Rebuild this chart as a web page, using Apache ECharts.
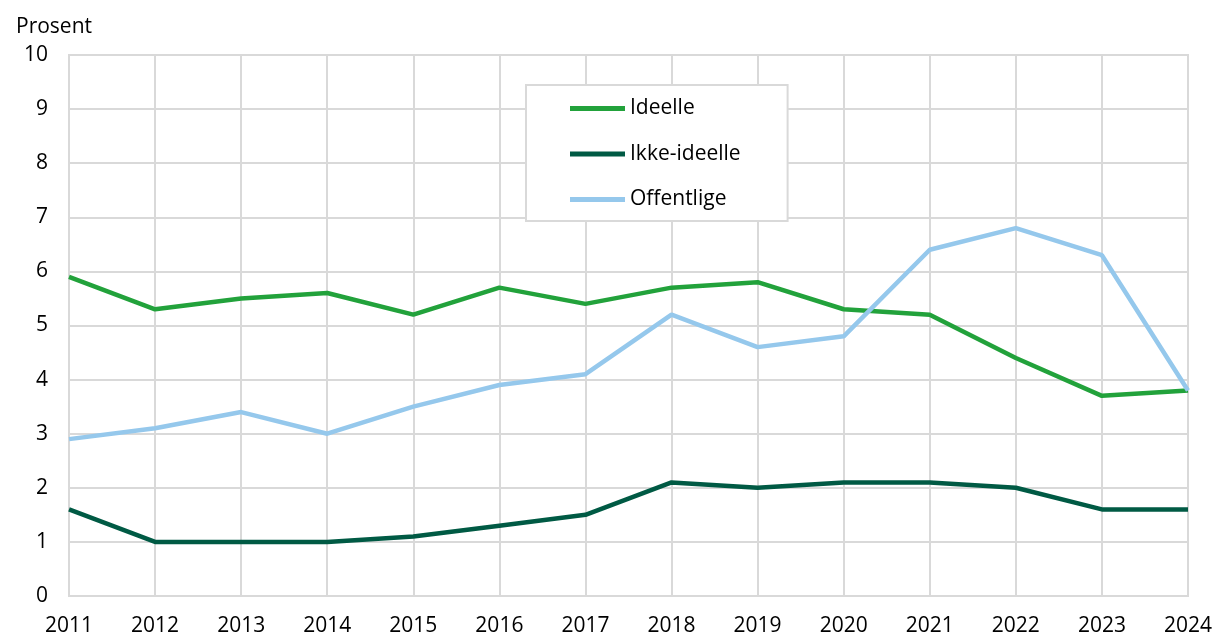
<!DOCTYPE html>
<html>
<head>
<meta charset="utf-8">
<script src="https://cdn.jsdelivr.net/npm/echarts@6/dist/echarts.min.js"></script>
<style>
  html, body { margin: 0; padding: 0; background: #fff; }
  #chart { width: 1215px; height: 637px; }
</style>
</head>
<body>
<div id="chart"></div>
<script>
// data
var years = ['2011', '2012', '2013', '2014', '2015', '2016', '2017', '2018', '2019', '2020', '2021', '2022', '2023', '2024'];
var ideelle = [5.9, 5.3, 5.5, 5.6, 5.2, 5.7, 5.4, 5.7, 5.8, 5.3, 5.2, 4.4, 3.7, 3.8];
var ikkeIdeelle = [1.6, 1.0, 1.0, 1.0, 1.1, 1.3, 1.5, 2.1, 2.0, 2.1, 2.1, 2.0, 1.6, 1.6];
var offentlige = [2.9, 3.1, 3.4, 3.0, 3.5, 3.9, 4.1, 5.2, 4.6, 4.8, 6.4, 6.8, 6.3, 3.8];

var font = "'Open Sans', 'Noto Sans', sans-serif";
var gridColor = '#d9d9d9';

var myChart = echarts.init(document.getElementById('chart'));

function lineSeries(name, data, color) {
  return {
    name: name,
    type: 'line',
    data: data,
    symbol: 'none',
    lineStyle: { color: color, width: 4.5 },
    itemStyle: { color: color }
  };
}

myChart.setOption({
  animation: false,
  textStyle: { fontFamily: font },
  title: {
    text: 'Prosent',
    left: 11,
    top: 12,
    textStyle: { fontFamily: font, fontSize: 21, fontWeight: 'normal', color: '#000' }
  },
  grid: {
    left: 69,
    right: 26,
    top: 55,
    bottom: 39,
    show: true,
    borderColor: gridColor,
    borderWidth: 2
  },
  legend: {
    left: 526,
    top: 85,
    orient: 'vertical',
    data: ['Ideelle', 'Ikke-ideelle', 'Offentlige'],
    icon: 'rect',
    itemWidth: 55,
    itemHeight: 5,
    itemGap: 24.5,
    padding: [13, 47, 11, 44],
    borderColor: gridColor,
    borderWidth: 2,
    backgroundColor: '#fff',
    textStyle: { fontFamily: font, fontSize: 21, color: '#000' }
  },
  xAxis: {
    type: 'category',
    data: years,
    boundaryGap: false,
    axisLine: { lineStyle: { color: gridColor, width: 2 } },
    axisTick: { show: false },
    axisLabel: { fontFamily: font, fontSize: 21, color: '#000', margin: 20 },
    splitLine: { show: true, lineStyle: { color: gridColor, width: 2 } }
  },
  yAxis: {
    type: 'value',
    min: 0,
    max: 10,
    interval: 1,
    axisLine: { show: true, lineStyle: { color: gridColor, width: 2 } },
    axisTick: { show: false },
    axisLabel: { fontFamily: font, fontSize: 21, color: '#000', margin: 21 },
    splitLine: { show: true, lineStyle: { color: gridColor, width: 2 } }
  },
  series: [
    lineSeries('Ideelle', ideelle, '#22a23b'),
    lineSeries('Ikke-ideelle', ikkeIdeelle, '#005a44'),
    lineSeries('Offentlige', offentlige, '#95c8ec')
  ]
});
</script>
</body>
</html>
